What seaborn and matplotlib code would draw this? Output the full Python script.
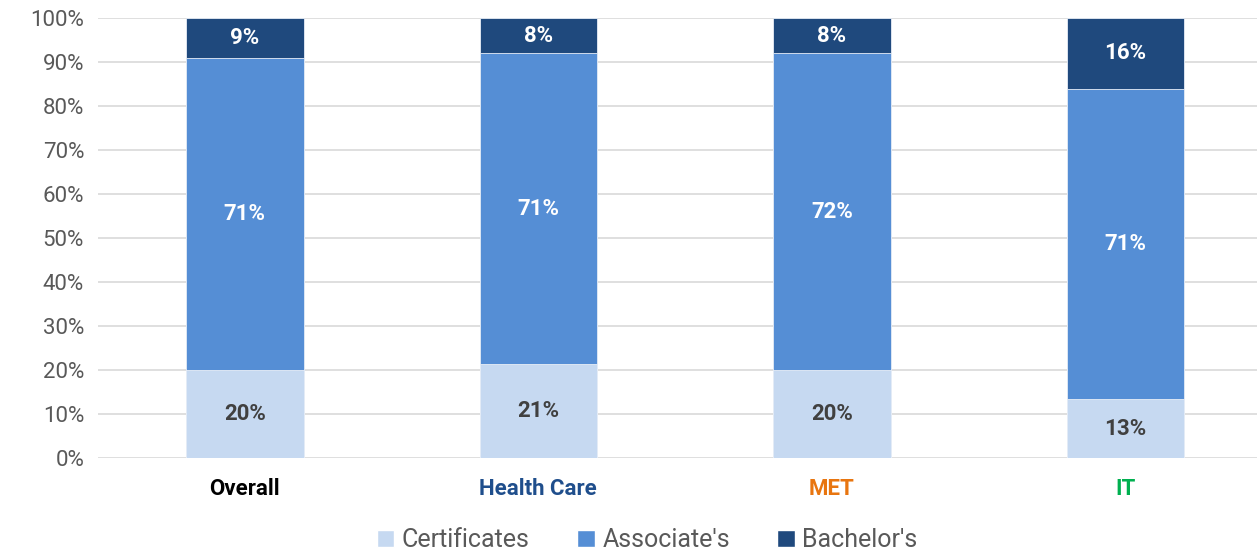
import numpy as np
import pandas as pd
import seaborn as sns
import matplotlib.pyplot as plt
from matplotlib.patches import Patch

# ------------------------------- dados ------------------------------- #
categorias = ['Overall', 'Health Care', 'MET', 'IT']
certificates = [20.0, 21.4, 20.0, 13.4]
associates = [71.0, 70.6, 72.0, 70.6]
bachelors = [9.0, 8.0, 8.0, 16.0]

cores = {'Certificates': '#C6D9F1', "Associate's": '#558ED5', "Bachelor's": '#1F497D'}
cores_rotulo = ['#000000', '#1F4E8C', '#E8750F', '#00B050']

df = pd.DataFrame({'cat': categorias, 'cert': certificates,
                   'assoc': associates, 'bach': bachelors})
df['topo_assoc'] = df['cert'] + df['assoc']
df['topo_bach'] = df['topo_assoc'] + df['bach']

sns.set_style('white')
plt.rcParams['font.family'] = ['Roboto', 'DejaVu Sans']

fig = plt.figure(figsize=(12.57, 5.5), dpi=100)
ax = fig.add_axes([0.078, 0.167, 0.934, 0.8])

# barras empilhadas: desenha do total para baixo
for col, nome in [('topo_bach', "Bachelor's"), ('topo_assoc', "Associate's"), ('cert', 'Certificates')]:
    sns.barplot(data=df, x='cat', y=col, color=cores[nome], width=0.4, saturation=1,
                ax=ax, zorder=3, edgecolor='#E8EEF7', linewidth=0.6)

# rótulos dos segmentos
for i, row in df.iterrows():
    ax.text(i, row['cert'] / 2, f"{row['cert']:.0f}%", ha='center', va='center',
            fontsize=16, color='#404040', fontweight='bold', zorder=4)
    ax.text(i, row['cert'] + row['assoc'] / 2, f"{row['assoc']:.0f}%", ha='center',
            va='center', fontsize=16, color='white', fontweight='bold', zorder=4)
    ax.text(i, row['topo_assoc'] + row['bach'] / 2, f"{row['bach']:.0f}%", ha='center',
            va='center', fontsize=16, color='white', fontweight='bold', zorder=4)

ax.set_ylim(0, 100)
ax.set_yticks(np.arange(0, 101, 10))
ax.set_yticklabels([f'{v}%' for v in range(0, 101, 10)], fontsize=16, color='#595959')
ax.yaxis.grid(True, color='#D9D9D9', linewidth=1.2, zorder=0)
ax.set_axisbelow(True)
ax.set_xlabel('')
ax.set_ylabel('')
ax.tick_params(axis='both', length=0)
ax.tick_params(axis='y', pad=10)
ax.tick_params(axis='x', pad=14)
for lab, c in zip(ax.get_xticklabels(), cores_rotulo):
    lab.set_color(c)
    lab.set_fontweight('bold')
    lab.set_fontsize(16)
sns.despine(ax=ax, left=True, bottom=True)

handles = [Patch(facecolor=c, label=k) for k, c in cores.items()]
fig.legend(handles=handles, loc='lower center', bbox_to_anchor=(0.515, -0.045), ncol=3,
           frameon=False, fontsize=18, handlelength=0.7, handleheight=0.7,
           handletextpad=0.3, columnspacing=1.9, labelcolor='#595959')

plt.savefig('out.png', dpi=100)
